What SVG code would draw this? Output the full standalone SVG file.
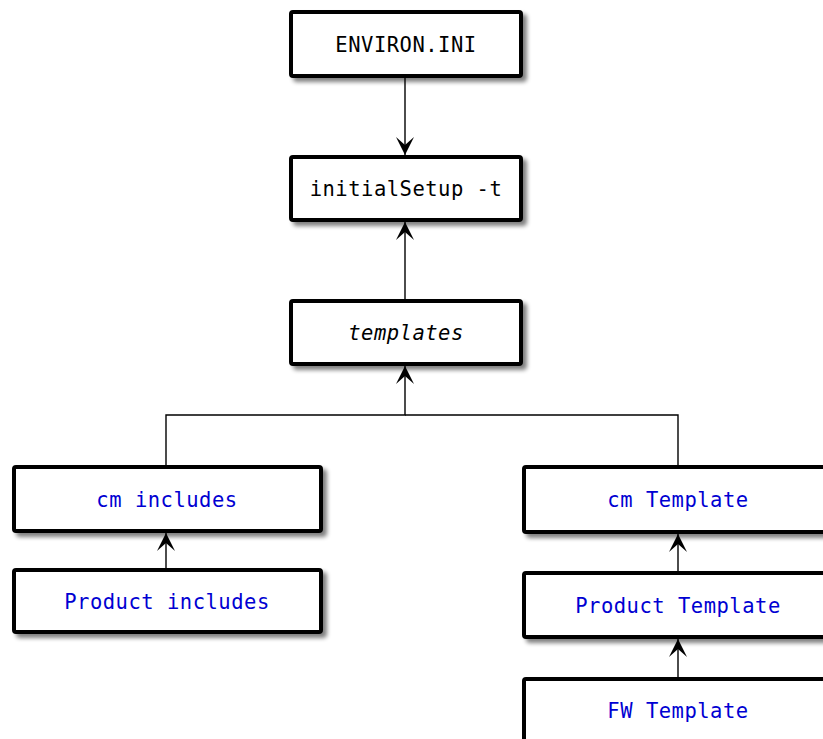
<svg xmlns="http://www.w3.org/2000/svg" width="823" height="739" viewBox="0 0 823 739">
<style>
.box{fill:#fff;stroke:#000;stroke-width:4;filter:url(#sh)}
.t{font-family:"DejaVu Sans Mono","Liberation Mono",monospace;font-size:20.5px;letter-spacing:0.5px;text-anchor:middle;fill:#000}
.b{fill:#0000d2}
.i{font-style:italic}
.c{fill:none;stroke:#000;stroke-width:1.4}
</style>
<defs>
<filter id="sh" x="-10%" y="-10%" width="130%" height="140%">
<feGaussianBlur in="SourceAlpha" stdDeviation="2.2"/>
<feOffset dx="4" dy="4" result="o"/>
<feComponentTransfer><feFuncA type="linear" slope="0.5"/></feComponentTransfer>
<feMerge><feMergeNode/><feMergeNode in="SourceGraphic"/></feMerge>
</filter>
<marker id="ar" markerUnits="userSpaceOnUse" orient="auto" markerWidth="22" markerHeight="22" viewBox="-20 -11 22 22" refX="0" refY="0">
<path d="M0,0 L-18,-9 L-10,0 L-18,9 Z" fill="#000"/>
</marker>
</defs>
<g id="connectors">
<path class="c" d="M405,78 V155" marker-end="url(#ar)"/>
<path class="c" d="M405,299 V222" marker-end="url(#ar)"/>
<path class="c" d="M166,465 V415 H405 V366" marker-end="url(#ar)"/>
<path class="c" d="M678,465 V415 H405"/>
<path class="c" d="M166,568 V533" marker-end="url(#ar)"/>
<path class="c" d="M678,571 V534" marker-end="url(#ar)"/>
<path class="c" d="M678,677 V639" marker-end="url(#ar)"/>
</g>
<g id="environ"><rect class="box" x="291" y="12" width="230" height="64" rx="2"/><text class="t" x="406" y="52">ENVIRON.INI</text></g>
<g id="initialSetup"><rect class="box" x="291" y="157" width="230" height="63" rx="2"/><text class="t" x="406" y="196">initialSetup -t</text></g>
<g id="templates"><rect class="box" x="291" y="301" width="230" height="63" rx="2"/><text class="t i" x="406" y="340">templates</text></g>
<g id="cmIncludes"><rect class="box" x="14" y="467" width="307" height="64" rx="2"/><text class="t b" x="167" y="507">cm includes</text></g>
<g id="productIncludes"><rect class="box" x="14" y="570" width="307" height="62" rx="2"/><text class="t b" x="167" y="609">Product includes</text></g>
<g id="cmTemplate"><rect class="box" x="524" y="467" width="308" height="65" rx="2"/><text class="t b" x="678" y="507">cm Template</text></g>
<g id="productTemplate"><rect class="box" x="524" y="573" width="308" height="64" rx="2"/><text class="t b" x="678" y="613">Product Template</text></g>
<g id="fwTemplate"><rect class="box" x="524" y="679" width="308" height="64" rx="2"/><text class="t b" x="678" y="718">FW Template</text></g>
</svg>
